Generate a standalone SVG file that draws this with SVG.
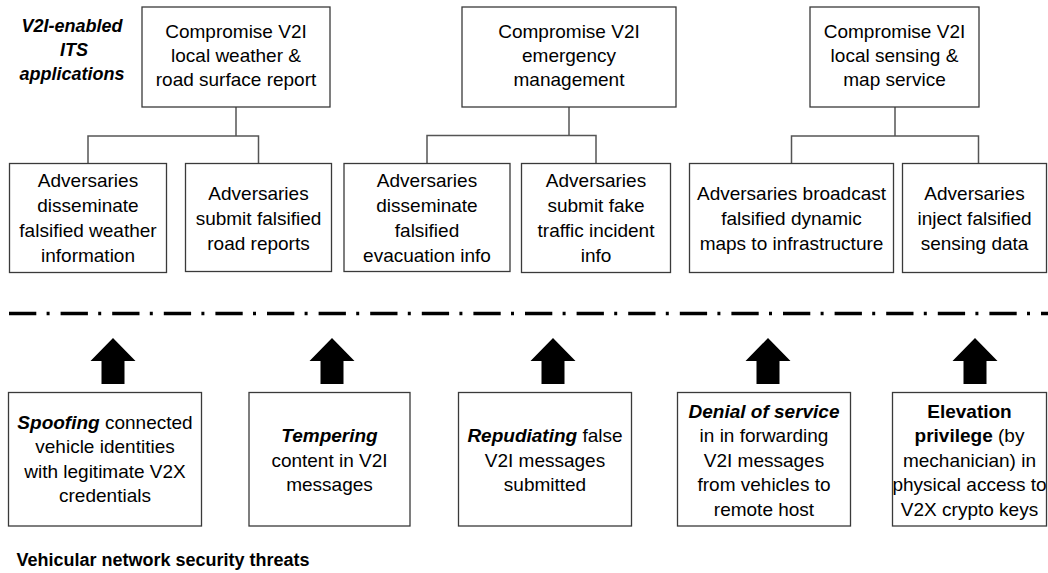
<svg xmlns="http://www.w3.org/2000/svg" width="1048" height="573" viewBox="0 0 1048 573">
<style>
.box{fill:#fff;stroke:#3a3a3a;stroke-width:1.3}
.t{font-family:"Liberation Sans",Arial,sans-serif;font-size:19px;fill:#000;text-anchor:middle}
.bi{font-weight:bold;font-style:italic}
.b{font-weight:bold}
.lbl{font-family:"Liberation Sans",Arial,sans-serif;font-size:18px;fill:#000;font-weight:bold}
.con{fill:none;stroke:#555;stroke-width:1.5}
.arr{fill:#000}
</style>
<rect width="1048" height="573" fill="#fff"/>
<g id="label-apps"><text class="lbl" font-style="italic" text-anchor="middle"><tspan x="72" y="32">V2I-enabled</tspan><tspan x="74" y="56">ITS</tspan><tspan x="72" y="80">applications</tspan></text></g>
<g id="label-threats"><text class="lbl" x="16.5" y="566">Vehicular network security threats</text></g>
<g id="connectors">
<path class="con" d="M236,107V136M88,163.5V136H258.5V163.5"/>
<path class="con" d="M569,107V135.5M427,163.5V135.5H596V163.5"/>
<path class="con" d="M895,107V136M791.5,163.5V136H978.5V163.5"/>
<line x1="9" y1="313.5" x2="1048" y2="313.5" stroke="#000" stroke-width="3.5" stroke-dasharray="27.3 10.3 3 11"/>
<polygon class="arr" points="113,338 135.5,361 124.5,361 124.5,384 101.5,384 101.5,361 90.5,361"/>
<polygon class="arr" points="332,338 354.5,361 343.5,361 343.5,384 320.5,384 320.5,361 309.5,361"/>
<polygon class="arr" points="553,338 575.5,361 564.5,361 564.5,384 541.5,384 541.5,361 530.5,361"/>
<polygon class="arr" points="768,338 790.5,361 779.5,361 779.5,384 756.5,384 756.5,361 745.5,361"/>
<polygon class="arr" points="975,338 997.5,361 986.5,361 986.5,384 963.5,384 963.5,361 952.5,361"/>
</g>
<g id="app-weather"><rect class="box" x="142" y="7" width="188" height="100"/><text class="t"><tspan x="236" y="38">Compromise V2I</tspan><tspan x="236" y="62">local weather &amp;</tspan><tspan x="236" y="86">road surface report</tspan></text></g>
<g id="app-emergency"><rect class="box" x="462" y="7" width="214" height="100"/><text class="t"><tspan x="569" y="38">Compromise V2I</tspan><tspan x="569" y="62">emergency</tspan><tspan x="569" y="86">management</tspan></text></g>
<g id="app-sensing"><rect class="box" x="810" y="7" width="169" height="100"/><text class="t"><tspan x="894.5" y="38">Compromise V2I</tspan><tspan x="894.5" y="62">local sensing &amp;</tspan><tspan x="894.5" y="86">map service</tspan></text></g>
<g id="adv-weather"><rect class="box" x="9.5" y="163.5" width="157" height="109"/><text class="t"><tspan x="88" y="187">Adversaries</tspan><tspan x="88" y="212">disseminate</tspan><tspan x="88" y="237">falsified weather</tspan><tspan x="88" y="262">information</tspan></text></g>
<g id="adv-road"><rect class="box" x="185.5" y="163.5" width="146" height="108"/><text class="t"><tspan x="258.5" y="200">Adversaries</tspan><tspan x="258.5" y="225">submit falsified</tspan><tspan x="258.5" y="250">road reports</tspan></text></g>
<g id="adv-evac"><rect class="box" x="344" y="163.5" width="166" height="108"/><text class="t"><tspan x="427" y="187">Adversaries</tspan><tspan x="427" y="212">disseminate</tspan><tspan x="427" y="237">falsified</tspan><tspan x="427" y="262">evacuation info</tspan></text></g>
<g id="adv-incident"><rect class="box" x="521.5" y="163.5" width="149" height="109"/><text class="t"><tspan x="596" y="187">Adversaries</tspan><tspan x="596" y="212">submit fake</tspan><tspan x="596" y="237">traffic incident</tspan><tspan x="596" y="262">info</tspan></text></g>
<g id="adv-maps"><rect class="box" x="689.5" y="163.5" width="204" height="109"/><text class="t"><tspan x="791.5" y="200">Adversaries broadcast</tspan><tspan x="791.5" y="225">falsified dynamic</tspan><tspan x="791.5" y="250">maps to infrastructure</tspan></text></g>
<g id="adv-sensing"><rect class="box" x="902.5" y="163.5" width="144" height="109"/><text class="t"><tspan x="974.5" y="200">Adversaries</tspan><tspan x="974.5" y="225">inject falsified</tspan><tspan x="974.5" y="250">sensing data</tspan></text></g>
<g id="threat-spoofing"><rect class="box" x="8.5" y="392.5" width="193" height="133.5"/><text class="t"><tspan x="105" y="428.5"><tspan class="bi">Spoofing</tspan> connected</tspan><tspan x="105" y="453">vehicle identities</tspan><tspan x="105" y="477.5">with legitimate V2X</tspan><tspan x="105" y="502">credentials</tspan></text></g>
<g id="threat-tampering"><rect class="box" x="249" y="392.5" width="161" height="133.5"/><text class="t"><tspan x="329.5" y="442" class="bi">Tempering</tspan><tspan x="329.5" y="466.5">content in V2I</tspan><tspan x="329.5" y="491">messages</tspan></text></g>
<g id="threat-repudiation"><rect class="box" x="458.5" y="392.5" width="173" height="133.5"/><text class="t"><tspan x="545" y="442"><tspan class="bi">Repudiating</tspan> false</tspan><tspan x="545" y="466.5">V2I messages</tspan><tspan x="545" y="491">submitted</tspan></text></g>
<g id="threat-dos"><rect class="box" x="677.5" y="392.5" width="173" height="133.5"/><text class="t"><tspan x="764" y="417.5" class="bi">Denial of service</tspan><tspan x="764" y="442">in in forwarding</tspan><tspan x="764" y="466.5">V2I messages</tspan><tspan x="764" y="491">from vehicles to</tspan><tspan x="764" y="515.5">remote host</tspan></text></g>
<g id="threat-elevation"><rect class="box" x="892.5" y="392.5" width="154" height="133.5"/><text class="t"><tspan x="969.5" y="417.5" class="b">Elevation</tspan><tspan x="969.5" y="442"><tspan class="b">privilege</tspan> (by</tspan><tspan x="969.5" y="466.5">mechanician) in</tspan><tspan x="969.5" y="491">physical access to</tspan><tspan x="969.5" y="515.5">V2X crypto keys</tspan></text></g>
</svg>
